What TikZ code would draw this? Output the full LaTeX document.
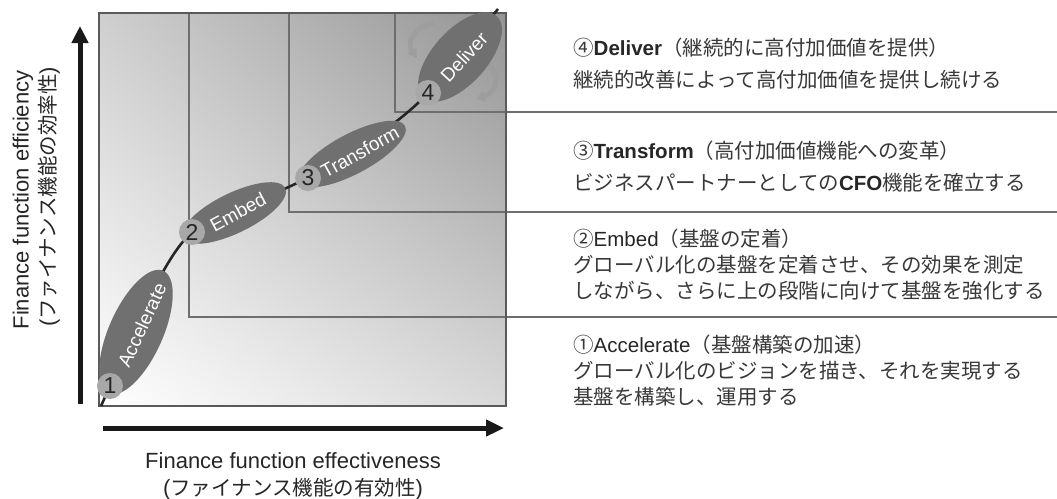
\documentclass[tikz,border=0pt]{standalone}
\usepackage{fontspec}
\setmainfont{Liberation Sans}
\newfontfamily\jp{Noto Sans CJK JP}
\usetikzlibrary{shapes.geometric,arrows.meta,shadings}
\definecolor{ellfill}{HTML}{707070}
\definecolor{circfill}{HTML}{A8A8A8}
\definecolor{boxline}{HTML}{5A5A5A}
\definecolor{thinline}{HTML}{6E6E6E}
\definecolor{txt}{HTML}{383838}
\definecolor{recycol}{HTML}{9C9C9C}
\begin{document}
\begin{tikzpicture}[x=1pt,y=-1pt,
  stageell/.style={ellipse, fill=ellfill, inner sep=0pt},
  stagetxt/.style={text=white, inner sep=0pt, font=\fontsize{19}{19}\selectfont},
  numc/.style={circle, fill=circfill, minimum size=26pt, inner sep=0pt, text=black!85, font=\fontsize{23}{23}\selectfont},
  desc/.style={anchor=west, text=txt, inner sep=0pt, font=\fontsize{20.5}{24}\selectfont},
  axlab/.style={text=black!85, inner sep=0pt, font=\fontsize{22}{22}\selectfont},
  axarrow/.style={line width=5pt, black!90},
  thin/.style={thinline, line width=1.1pt},
  sep/.style={thinline, line width=1.6pt},
  recyc/.style={recycol, line width=5pt, opacity=0.7, -{Triangle[length=9pt,width=11pt]}},
  curve/.style={line width=2.6pt, black!85}]
\useasboundingbox (0,0) rectangle (1057,498);
% background box
\shade[lower left=white, upper right=black!42, upper left=black!19, lower right=black!15] (99,13) rectangle (506,406);
% stage frames
\draw[thin] (189,13) -- (189,317) -- (506,317);
\draw[thin] (289,13) -- (289,212) -- (506,212);
\draw[thin] (395,13) -- (395,112) -- (506,112);
\draw[sep] (506,317) -- (1057,317);
\draw[sep] (506,212) -- (1057,212);
\draw[sep] (506,112) -- (1057,112);
\draw[boxline, line width=2.6pt] (99,13) rectangle (506,406);
% recycle arrows
\draw[recyc] (434,23) .. controls (412,27) and (407,44) .. (417,58);
\draw[recyc] (486,63) .. controls (501,72) and (498,92) .. (476,99);
% curve
\coordinate (start) at (101,406);
\coordinate (p1) at (110,386);
\coordinate (p2) at (192,232);
\coordinate (p3) at (308,178);
\coordinate (p4) at (428,93);
\coordinate (fin) at (498,9);
\draw[curve] (start) -- (p1) .. controls (135,330) and (163,258) .. (p2) -- (p3) .. controls (360,150) and (405,118) .. (p4) -- (fin);
% ellipses
\node[stageell, minimum width=134pt, minimum height=54pt, rotate=66] (e1) at (136,332) {};
\node[stageell, minimum width=114pt, minimum height=40pt, rotate=26] (e2) at (234,213) {};
\node[stageell, minimum width=120pt, minimum height=40pt, rotate=28] (e3) at (352,154) {};
\node[stageell, minimum width=110pt, minimum height=54pt, rotate=48] (e4) at (460,57) {};
\node[stagetxt, rotate=65] (t1) at (142,325) {Accelerate};
\node[stagetxt, rotate=28] (t2) at (238,212) {Embed};
\node[stagetxt, rotate=29] (t3) at (360,152) {Transform};
\node[stagetxt, rotate=47] (t4) at (464,57) {Deliver};
% number circles
\node[numc] (c1) at (p1) {1};
\node[numc] (c2) at (p2) {2};
\node[numc] (c3) at (p3) {3};
\node[numc] (c4) at (p4) {4};
% axes
\coordinate (ya) at (80,404);
\coordinate (yb) at (80,26);
\coordinate (xa) at (103,428);
\coordinate (xb) at (504,428);
\draw[axarrow, -{Triangle[length=17pt,width=16pt]}] (ya) -- (yb);
\draw[axarrow, -{Triangle[length=18pt,width=16pt]}] (xa) -- (xb);
\node[axlab, rotate=90] (yl1) at (23,200) {Finance function efficiency};
\node[axlab, rotate=90] (yl2) at (49,197) {({\jp\fontsize{20.5}{20.5}\selectfont ファイナンス機能の効率性})};
\node[axlab] (xl1) at (293,461) {Finance function effectiveness};
\node[axlab] (xl2) at (293,489) {({\jp\fontsize{20.5}{20.5}\selectfont ファイナンス機能の有効性})};
% descriptions
\node[desc] (d4a) at (573,48) {{\jp ④}{\bfseries\color{black!85}Deliver}{\jp （継続的に高付加価値を提供）}};
\node[desc] (d4b) at (573,80) {\jp 継続的改善によって高付加価値を提供し続ける};
\node[desc] (d3a) at (573,151) {{\jp ③}{\bfseries\color{black!85}Transform}{\jp （高付加価値機能への変革）}};
\node[desc] (d3b) at (573,183) {{\jp ビジネスパートナーとしての}{\bfseries\color{black!85}CFO}{\jp 機能を確立する}};
\node[desc] (d2a) at (573,239) {{\jp ②}{\color{black!85}Embed}{\jp （基盤の定着）}};
\node[desc] (d2b) at (573,265) {\jp グローバル化の基盤を定着させ、その効果を測定};
\node[desc] (d2c) at (573,291) {\jp しながら、さらに上の段階に向けて基盤を強化する};
\node[desc] (d1a) at (573,345) {{\jp ①}{\color{black!85}Accelerate}{\jp （基盤構築の加速）}};
\node[desc] (d1b) at (573,371) {\jp グローバル化のビジョンを描き、それを実現する};
\node[desc] (d1c) at (573,397) {\jp 基盤を構築し、運用する};
\end{tikzpicture}
\end{document}
